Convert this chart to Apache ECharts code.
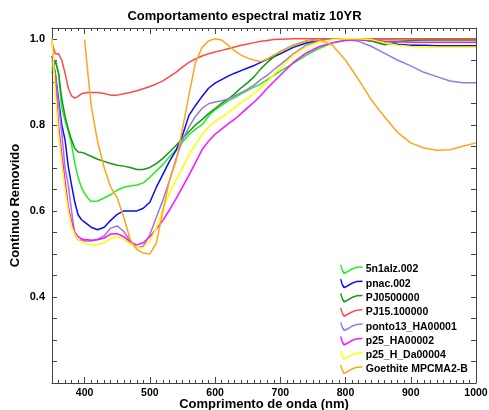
<!DOCTYPE html>
<html>
<head>
<meta charset="utf-8">
<script src="https://cdn.jsdelivr.net/npm/echarts@6/dist/echarts.min.js"></script>
<style>html,body{margin:0;padding:0;background:#fff}#c{width:489px;height:410px}</style>
</head>
<body>
<div id="c"></div>
<script>
var wavelengths = [350,355,360,365,370,375,380,385,390,395,400,405,410,420,430,440,450,460,470,480,490,500,510,520,530,540,550,560,570,580,590,600,610,620,630,640,650,660,670,680,690,700,720,740,760,780,800,820,840,860,880,900,920,940,960,980,1000];

var s_5n1alz = [0.93,0.95,0.92,0.84,0.81,0.785,0.755,0.71,0.678,0.655,0.64,0.63,0.622,0.623,0.63,0.638,0.648,0.655,0.658,0.66,0.665,0.678,0.693,0.708,0.725,0.742,0.76,0.777,0.79,0.8,0.82,0.835,0.845,0.855,0.863,0.872,0.88,0.888,0.895,0.905,0.915,0.925,0.943,0.962,0.978,0.99,0.997,1.0,1.0,0.998,0.997,0.997,0.997,0.998,0.998,0.998,0.998];
var s_pnac = [0.96,0.92,0.86,0.8,0.765,0.703,0.66,0.62,0.591,0.58,0.574,0.568,0.562,0.556,0.562,0.578,0.592,0.6,0.6,0.6,0.606,0.62,0.655,0.685,0.715,0.74,0.775,0.822,0.845,0.866,0.885,0.897,0.905,0.913,0.92,0.926,0.932,0.938,0.945,0.952,0.958,0.965,0.98,0.99,0.997,1.0,1.0,0.999,0.995,0.99,0.987,0.985,0.985,0.984,0.984,0.984,0.984];
var s_pj05 = [0.92,0.95,0.92,0.86,0.82,0.79,0.765,0.745,0.737,0.736,0.734,0.73,0.727,0.72,0.715,0.71,0.706,0.704,0.701,0.696,0.696,0.701,0.71,0.722,0.737,0.752,0.768,0.784,0.8,0.812,0.826,0.838,0.85,0.86,0.872,0.886,0.898,0.912,0.93,0.945,0.958,0.97,0.985,0.995,1.0,1.0,0.999,0.998,0.995,0.986,0.993,0.996,0.997,0.997,0.997,0.997,0.997];
var s_pj15 = [0.99,0.965,0.965,0.95,0.92,0.885,0.867,0.862,0.866,0.872,0.874,0.875,0.875,0.875,0.873,0.869,0.869,0.872,0.875,0.879,0.884,0.889,0.895,0.902,0.912,0.922,0.934,0.945,0.953,0.96,0.965,0.969,0.973,0.977,0.981,0.985,0.988,0.991,0.994,0.996,0.998,0.999,1.0,1.0,1.0,1.0,1.0,1.0,1.0,1.0,1.0,1.0,1.0,1.0,1.0,1.0,1.0];
var s_ponto13 = [0.95,0.92,0.85,0.78,0.7,0.66,0.6,0.545,0.533,0.532,0.53,0.53,0.53,0.534,0.542,0.56,0.565,0.552,0.53,0.514,0.518,0.545,0.585,0.625,0.67,0.72,0.765,0.795,0.82,0.838,0.849,0.853,0.856,0.86,0.867,0.875,0.883,0.893,0.905,0.915,0.928,0.94,0.965,0.985,0.996,1.0,0.999,0.994,0.982,0.966,0.95,0.937,0.922,0.912,0.902,0.898,0.898];
var s_p25ha = [1.0,0.9,0.8,0.73,0.67,0.61,0.575,0.55,0.54,0.535,0.533,0.533,0.532,0.533,0.537,0.546,0.547,0.54,0.528,0.521,0.526,0.54,0.558,0.578,0.602,0.628,0.655,0.683,0.712,0.742,0.762,0.778,0.79,0.802,0.813,0.826,0.84,0.853,0.868,0.885,0.9,0.915,0.945,0.967,0.982,0.991,0.996,0.998,0.997,0.994,0.993,0.992,0.992,0.992,0.992,0.992,0.992];
var s_p25hda = [1.0,0.88,0.78,0.71,0.65,0.6,0.565,0.545,0.535,0.528,0.525,0.523,0.522,0.522,0.526,0.536,0.54,0.535,0.522,0.514,0.515,0.53,0.56,0.605,0.64,0.672,0.7,0.73,0.755,0.777,0.795,0.808,0.818,0.828,0.84,0.852,0.862,0.873,0.885,0.9,0.917,0.932,0.962,0.982,0.992,0.998,1.0,1.0,0.998,0.99,0.985,0.982,0.981,0.98,0.98,0.98,0.98];
var s_goethite = [null,null,null,null,null,null,null,null,null,null,0.998,0.92,0.845,0.76,0.7,0.655,0.63,0.585,0.533,0.51,0.502,0.5,0.525,0.6,0.67,0.715,0.79,0.87,0.945,0.98,0.995,1.0,0.997,0.985,0.972,0.962,0.955,0.95,0.947,0.953,0.962,0.97,0.985,0.995,0.998,0.985,0.95,0.905,0.857,0.818,0.782,0.758,0.746,0.741,0.742,0.75,0.758];

var seriesNames = ['5n1alz.002','pnac.002','PJ0500000','PJ15.100000','ponto13_HA00001','p25_HA00002','p25_H_Da00004','Goethite MPCMA2-B'];
var seriesValues = [s_5n1alz,s_pnac,s_pj05,s_pj15,s_ponto13,s_p25ha,s_p25hda,s_goethite];
var seriesColors = ['#22ee22','#0a0aff','#129a12','#ff4a4a','#9a78e0','#ff10ff','#ffff00','#ffa51a'];
var yLabelValues = [0.4,0.6,0.8,1.0];

var FONT = 'Liberation Sans';
var swoosh = 'path://M0,0 L1.6,0 L3.2,5.5 L5,7.6 L8.5,5.8 L13,3.2 L18,1.6 L24,1.2 L24,2.8 L18,3.2 L13.5,4.8 L9,7.4 L5,9.6 L3.5,9.2 L1.8,6 Z';

var series = seriesNames.map(function(n,i){
  return {
    name: n, type: 'line', xAxisIndex: 0, yAxisIndex: 0,
    showSymbol: false, symbol: 'none', connectNulls: false,
    itemStyle: {color: seriesColors[i]},
    lineStyle: {color: seriesColors[i], width: 1.5},
    data: wavelengths.map(function(w,j){ return [w, seriesValues[i][j]]; }),
    animation: false
  };
});

var gridBox = {left: 52, right: 13, top: 28, bottom: 27, containLabel: false, outerBoundsMode: 'none'};
var axColor = '#444';

var option = {
  backgroundColor: '#fff',
  animation: false,
  title: {
    text: 'Comportamento espectral matiz 10YR',
    left: 'center', top: 8,
    padding: [2, 0, 2, 41],
    textStyle: {fontFamily: FONT, fontWeight: 'bold', fontSize: 13, color: '#000'}
  },
  grid: gridBox,
  legend: {
    orient: 'vertical', left: 340, top: 264, padding: 0,
    itemWidth: 23, itemHeight: 9, itemGap: 3.3,
    icon: swoosh,
    itemStyle: {borderWidth: 0},
    textStyle: {fontFamily: FONT, fontWeight: 'bold', fontSize: 10.5, lineHeight: 11, color: '#000', padding: [0,0,0,-2]},
    data: seriesNames
  },
  xAxis: [
    {type: 'value', position: 'bottom', min: 350, max: 1000, splitNumber: 5,
     name: 'Comprimento de onda (nm)', nameLocation: 'middle', nameGap: 15, nameMoveOverlap: false,
     nameTextStyle: {fontFamily: FONT, fontWeight: 'bold', fontSize: 13, color: '#000'},
     axisLine: {show: true, onZero: false, lineStyle: {color: axColor, width: 1}},
     axisTick: {show: true, inside: true, length: 6, lineStyle: {color: axColor}},
     axisLabel: {margin: 5, fontFamily: FONT, fontWeight: 'bold', fontSize: 10.5, color: '#000',
       formatter: function(v){ return (Math.round(v) % 100 === 0) ? String(Math.round(v)) : ''; }},
     splitLine: {show: false}},
    {type: 'value', position: 'bottom', min: 350, max: 1000, interval: 10,
     axisLine: {show: false, onZero: false}, axisLabel: {show: false},
     axisTick: {show: true, inside: true, length: 3, lineStyle: {color: axColor}},
     splitLine: {show: false}},
    {type: 'value', position: 'top', min: 350, max: 1000, splitNumber: 5,
     axisLine: {show: true, onZero: false, lineStyle: {color: axColor, width: 1}},
     axisTick: {show: true, inside: true, length: 6, lineStyle: {color: axColor}},
     axisLabel: {show: false}, splitLine: {show: false}},
    {type: 'value', position: 'top', min: 350, max: 1000, interval: 10,
     axisLine: {show: false, onZero: false}, axisLabel: {show: false},
     axisTick: {show: true, inside: true, length: 3, lineStyle: {color: axColor}},
     splitLine: {show: false}}
  ],
  yAxis: [
    {type: 'value', position: 'left', min: 0.2, max: 1.025, interval: 0.05,
     name: 'Continuo Removido', nameLocation: 'middle', nameGap: 30, nameRotate: 90, nameMoveOverlap: false,
     nameTextStyle: {fontFamily: FONT, fontWeight: 'bold', fontSize: 13, color: '#000'},
     axisLine: {show: true, onZero: false, lineStyle: {color: axColor, width: 1}},
     axisTick: {show: true, inside: true, length: 5, lineStyle: {color: axColor}},
     axisLabel: {margin: 7, fontFamily: FONT, fontWeight: 'bold', fontSize: 11, color: '#000',
       formatter: function(v){
         for (var k=0;k<yLabelValues.length;k++){ if (Math.abs(v-yLabelValues[k])<1e-6) return yLabelValues[k].toFixed(1); }
         return '';
       }},
     splitLine: {show: false}},
    {type: 'value', position: 'right', min: 0.2, max: 1.025, interval: 0.05,
     axisLine: {show: true, onZero: false, lineStyle: {color: axColor, width: 1}},
     axisTick: {show: true, inside: true, length: 5, lineStyle: {color: axColor}},
     axisLabel: {show: false}, splitLine: {show: false}}
  ],
  series: series
};

var chart = echarts.init(document.getElementById('c'), null, {renderer: 'canvas'});
chart.setOption(option);
</script>
</body>
</html>
